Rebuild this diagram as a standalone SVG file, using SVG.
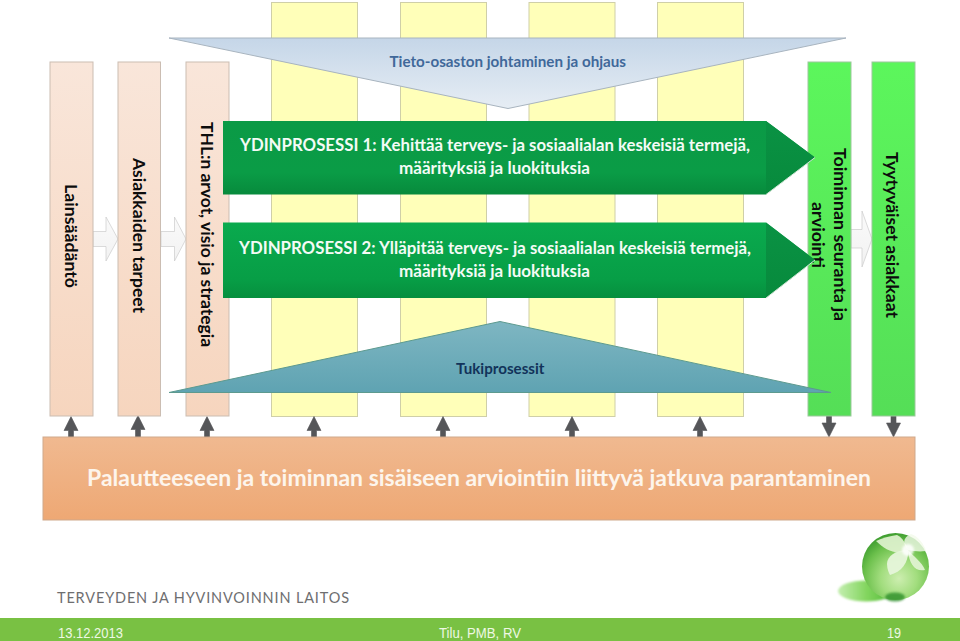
<svg xmlns="http://www.w3.org/2000/svg" width="960" height="641" viewBox="0 0 960 641">
<defs>
<linearGradient id="gPeach" x1="0" y1="0" x2="0" y2="1"><stop offset="0" stop-color="#f9e6da"/><stop offset="1" stop-color="#f6d5be"/></linearGradient>
<linearGradient id="gLime" x1="0" y1="0" x2="0" y2="1"><stop offset="0" stop-color="#5cf65c"/><stop offset="1" stop-color="#55de57"/></linearGradient>
<linearGradient id="gTop" x1="0" y1="0" x2="0" y2="1"><stop offset="0" stop-color="#c5d6e8"/><stop offset="1" stop-color="#e6edf4"/></linearGradient>
<linearGradient id="gBot" x1="0" y1="0" x2="0" y2="1"><stop offset="0" stop-color="#7eb6c2"/><stop offset="1" stop-color="#5fa3b2"/></linearGradient>
<linearGradient id="gArrow1" x1="0" y1="0" x2="0" y2="1"><stop offset="0" stop-color="#0b9a46"/><stop offset="0.7" stop-color="#0a9c46"/><stop offset="1" stop-color="#078a3c"/></linearGradient>
<linearGradient id="gArrow2" x1="0" y1="0" x2="0" y2="1"><stop offset="0" stop-color="#0aaa4e"/><stop offset="0.75" stop-color="#079e46"/><stop offset="1" stop-color="#068f3e"/></linearGradient>
<linearGradient id="gTip" x1="0" y1="0" x2="0" y2="1"><stop offset="0" stop-color="#0a9244"/><stop offset="1" stop-color="#078a3c"/></linearGradient>
<linearGradient id="gOrange" x1="0" y1="0" x2="0" y2="1"><stop offset="0" stop-color="#f0b990"/><stop offset="1" stop-color="#eea874"/></linearGradient>
<linearGradient id="gHollow" x1="0" y1="0" x2="0" y2="1"><stop offset="0" stop-color="#fafafa"/><stop offset="1" stop-color="#f2f2f2"/></linearGradient>
<radialGradient id="gBall" cx="0.55" cy="0.68" r="0.68"><stop offset="0" stop-color="#cdeeb0"/><stop offset="0.4" stop-color="#a2dd7e"/><stop offset="0.75" stop-color="#6cc04c"/><stop offset="1" stop-color="#3f9e30"/></radialGradient>
<linearGradient id="gShadow" x1="0" y1="0" x2="1" y2="0"><stop offset="0" stop-color="#c4eeb0"/><stop offset="0.5" stop-color="#84d660"/><stop offset="1" stop-color="#4fb836"/></linearGradient>
<filter id="soft" x="-20%" y="-20%" width="140%" height="140%"><feGaussianBlur stdDeviation="1"/></filter>
<path id="up" d="M-2.500 23V14H-7L0 0L7 14H2.500V23Z" fill="#555659" stroke="#555659" stroke-width="0.6" stroke-linejoin="round"/>
<path id="down" d="M-2.500 0V9H-7L0 23L7 9H2.500V0Z" fill="#555659" stroke="#555659" stroke-width="0.6" stroke-linejoin="round"/>
</defs>
<style>
.peach{fill:url(#gPeach);stroke:#cbbdb2;stroke-width:1}
.yellow{fill:#ffffb9;stroke:#cfcfa8;stroke-width:1}
.lime{fill:url(#gLime);stroke:#9cc79c;stroke-width:1}
.hollow{fill:url(#gHollow);stroke:#cccccc;stroke-width:0.7}
text{font-family:Lato,"Open Sans","Liberation Sans",sans-serif;font-weight:700}
.v{font-size:17px;fill:#0c0c0c}
.w{font-size:16.500px;fill:#f4fbf6}
.foot{font-family:"Liberation Sans",Arial,sans-serif;font-weight:400;font-size:14px;fill:#eef8e4}
</style>
<rect width="960" height="641" fill="#ffffff"/>

<g id="pillars">
<rect id="pillar-1" class="yellow" x="271.500" y="2.500" width="86" height="414"/>
<rect id="pillar-2" class="yellow" x="400.500" y="2.500" width="86" height="414"/>
<rect id="pillar-3" class="yellow" x="529" y="2.500" width="86" height="414"/>
<rect id="pillar-4" class="yellow" x="657.500" y="2.500" width="86" height="414"/>
</g>

<g id="connectors">
<path class="hollow" d="M93 231.500H106V217L118 239L106 261V246.500H93Z"/>
<path class="hollow" d="M161 231.500H174.500V217L186 239L174.500 261V246.500H161Z"/>
<path class="hollow" d="M851 229.500H862V211L872 239L862 267V248H851Z"/>
<use href="#up" x="71" y="416.500"/>
<use href="#up" x="138" y="415.500"/>
<use href="#up" x="207" y="416.500"/>
<use href="#up" x="314" y="416.500"/>
<use href="#up" x="443" y="416.500"/>
<use href="#up" x="572" y="416.500"/>
<use href="#up" x="700" y="416.500"/>
<use href="#down" x="829" y="414"/>
<use href="#down" x="893.500" y="414"/>
</g>

<g id="lainsaadanto">
<rect class="peach" x="50" y="62" width="43" height="354"/>
<text class="v" transform="translate(65 184) rotate(90)" textLength="104" lengthAdjust="spacingAndGlyphs">Lainsäädäntö</text>
</g>
<g id="asiakkaiden-tarpeet">
<rect class="peach" x="118" y="62" width="42.500" height="354"/>
<text class="v" transform="translate(133 158) rotate(90)" textLength="155" lengthAdjust="spacingAndGlyphs">Asiakkaiden tarpeet</text>
</g>
<g id="thl">
<rect class="peach" x="186" y="62" width="43" height="354"/>
<text class="v" transform="translate(200.500 122) rotate(90)" textLength="225" lengthAdjust="spacingAndGlyphs">THL:n arvot, visio ja strategia</text>
</g>
<g id="seuranta">
<rect class="lime" x="808" y="62" width="43" height="354"/>
<text class="v" transform="translate(834 148) rotate(90)" textLength="173" lengthAdjust="spacingAndGlyphs">Toiminnan seuranta ja</text>
<text class="v" transform="translate(812 202) rotate(90)" textLength="66" lengthAdjust="spacingAndGlyphs">arviointi</text>
</g>
<g id="tyytyvaiset">
<rect class="lime" x="872" y="62" width="43" height="354"/>
<text class="v" transform="translate(886 152) rotate(90)" textLength="166" lengthAdjust="spacingAndGlyphs">Tyytyväiset asiakkaat</text>
</g>

<g id="ohjaus">
<path d="M169 38H846L508 108.500Z" fill="url(#gTop)" stroke="#a8b4bf" stroke-width="1"/>
<text x="389.500" y="66.500" font-size="15" fill="#40689a" textLength="236.500" lengthAdjust="spacingAndGlyphs">Tieto-osaston johtaminen ja ohjaus</text>
</g>

<g id="ydinprosessi-1">
<path d="M223 121H766L815 157.500L766 194.500H223Z" fill="url(#gArrow1)"/>
<path d="M766 121L815 157.500L766 194.500Z" fill="url(#gTip)"/>
<path d="M766 194.500L815 157.500" fill="none" stroke="#d5e8d8" stroke-width="1"/>
<text class="w" x="240" y="151" textLength="510" lengthAdjust="spacingAndGlyphs">YDINPROSESSI 1: Kehittää terveys- ja sosiaalialan keskeisiä termejä,</text>
<text class="w" x="399" y="174" textLength="191" lengthAdjust="spacingAndGlyphs">määrityksiä ja luokituksia</text>
</g>
<g id="ydinprosessi-2">
<path d="M223 222.500H766L815 260L766 298H223Z" fill="url(#gArrow2)"/>
<path d="M766 222.500L815 260L766 298Z" fill="url(#gTip)"/>
<path d="M766 298L815 260" fill="none" stroke="#d5e8d8" stroke-width="1"/>
<text class="w" x="239" y="254" textLength="512" lengthAdjust="spacingAndGlyphs">YDINPROSESSI 2: Ylläpitää terveys- ja sosiaalialan keskeisiä termejä,</text>
<text class="w" x="399" y="277" textLength="191" lengthAdjust="spacingAndGlyphs">määrityksiä ja luokituksia</text>
</g>

<g id="tukiprosessit">
<path d="M169 392.500L500 321.500L831 392.500Z" fill="url(#gBot)" stroke="#5d9a8f" stroke-width="1"/>
<text x="456" y="374" font-size="15" fill="#12335a" textLength="88.500" lengthAdjust="spacingAndGlyphs">Tukiprosessit</text>
</g>

<g id="parantaminen">
<rect x="43" y="437" width="872" height="83" fill="url(#gOrange)" stroke="#cfa98c" stroke-width="1"/>
<text x="87" y="486" font-size="22px" fill="#fdf5ec" textLength="784" lengthAdjust="spacingAndGlyphs">Palautteeseen ja toiminnan sisäiseen arviointiin liittyvä jatkuva parantaminen</text>
</g>

<text id="org" x="57" y="603" font-size="14.500px" fill="#6e6e70" style="font-weight:400" textLength="292" lengthAdjust="spacing">TERVEYDEN JA HYVINVOINNIN LAITOS</text>

<g id="logo">
<ellipse cx="866" cy="591" rx="28" ry="10.500" fill="url(#gShadow)" filter="url(#soft)"/>
<circle cx="895.500" cy="566.500" r="33.500" fill="url(#gBall)"/>
<ellipse cx="895" cy="597" rx="10" ry="4.500" fill="#2f8f2c" opacity="0.8" filter="url(#soft)"/>
<path d="M876 541C882 538 890 536 897 535C903 538 906 544 908 550C897 556 885 550 876 541Z" fill="#dff2cf" opacity="0.92"/>
<path d="M908 550C896 550 887 556 887 564C887 569 889 573 890 575C901 572 909 563 908 550Z" fill="#e6f5da" opacity="0.95"/>
<path d="M908 550C913 556 922 562 925 570C915 572 909 564 908 550Z" fill="#e2f3d4" opacity="0.92"/>
<path d="M908 550C903 544 902 538 911 534C918 536 924 544 926 551C919 552 913 551 908 550Z" fill="#f2faea" opacity="0.8"/>
<circle cx="908" cy="550" r="6" fill="#ffffff" opacity="0.85" filter="url(#soft)"/>
</g>

<g id="footer">
<rect x="0" y="618" width="960" height="23" fill="#79c143"/>
<text class="foot" x="58" y="637.500" textLength="65" lengthAdjust="spacingAndGlyphs">13.12.2013</text>
<text class="foot" x="439" y="637.500" textLength="82" lengthAdjust="spacingAndGlyphs">Tilu, PMB, RV</text>
<text class="foot" x="887" y="637.500" textLength="14" lengthAdjust="spacingAndGlyphs">19</text>
</g>
</svg>
